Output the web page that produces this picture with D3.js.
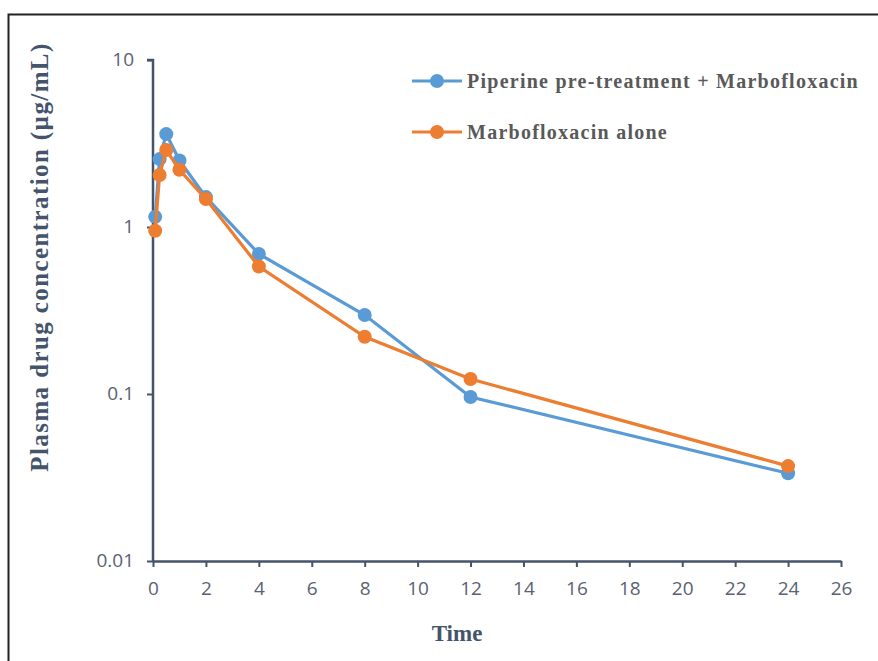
<!DOCTYPE html>
<html>
<head>
<meta charset="utf-8">
<script src="https://cdn.jsdelivr.net/npm/d3@7"></script>
<style>
  body { margin: 0; background: #fff; }
</style>
</head>
<body>
<div id="chart"></div>
<script>
var timePoints = [0.083, 0.25, 0.5, 1, 2, 4, 8, 12, 24];
var piperineConc = [1.15, 2.55, 3.6, 2.5, 1.51, 0.69, 0.297, 0.096, 0.0335];
var aloneConc = [0.95, 2.05, 2.89, 2.2, 1.47, 0.58, 0.22, 0.123, 0.037];
var seriesNames = ["Piperine pre-treatment + Marbofloxacin", "Marbofloxacin alone"];
var seriesColors = ["#5B9BD5", "#ED7D31"];
var xTicks = [0, 2, 4, 6, 8, 10, 12, 14, 16, 18, 20, 22, 24, 26];
var yTicks = [0.01, 0.1, 1, 10];

var width = 878, height = 661;
var axisColor = "#44546A";

var svg = d3.select("#chart").append("svg")
    .attr("width", width)
    .attr("height", height);

// outer frame
svg.append("rect")
    .attr("x", 8.5).attr("y", 14.5)
    .attr("width", width + 10).attr("height", height + 10)
    .attr("fill", "none")
    .attr("stroke", "#222")
    .attr("stroke-width", 2);

var x = d3.scaleLinear().domain([0, 26]).range([153, 841]);
var y = d3.scaleLog().domain([0.01, 10]).range([561, 60]);

// axes
var xAxis = svg.append("g")
    .attr("transform", "translate(0," + y(0.01) + ")")
    .call(d3.axisBottom(x).tickValues(xTicks).tickSize(6).tickSizeOuter(0).tickPadding(15));

var yAxis = svg.append("g")
    .attr("transform", "translate(" + x(0) + ",0)")
    .call(d3.axisLeft(y).tickValues(yTicks).tickSize(6).tickSizeOuter(0)
      .tickFormat(function (d) { return String(d); }).tickPadding(13));

[xAxis, yAxis].forEach(function (g) {
  g.select(".domain").attr("stroke", axisColor).attr("stroke-width", 2.5);
  g.selectAll(".tick line").attr("stroke", axisColor).attr("stroke-width", 2);
  g.selectAll(".tick text")
    .attr("fill", "#5a6272")
    .style("font-family", "'Open Sans', sans-serif")
    .style("font-size", "19px");
});
yAxis.selectAll(".tick text").attr("dy", "0.3em");
// extend the y axis line to the top tick
yAxis.select(".domain").attr("d", "M-6," + y(10) + "H0V" + y(0.01));

// lines and markers
var allSeries = [piperineConc, aloneConc];
var line = d3.line()
    .x(function (d) { return x(d[0]); })
    .y(function (d) { return y(d[1]); });

allSeries.forEach(function (vals, i) {
  var pts = timePoints.map(function (t, j) { return [t, vals[j]]; });
  svg.append("path")
      .datum(pts)
      .attr("d", line)
      .attr("fill", "none")
      .attr("stroke", seriesColors[i])
      .attr("stroke-width", 3.2);
  svg.selectAll(".pt" + i)
      .data(pts)
      .enter()
      .append("circle")
      .attr("class", "pt" + i)
      .attr("cx", function (d) { return x(d[0]); })
      .attr("cy", function (d) { return y(d[1]); })
      .attr("r", 7)
      .attr("fill", seriesColors[i]);
});

// legend
var legend = svg.selectAll(".legend")
    .data(seriesNames)
    .enter()
    .append("g")
    .attr("class", "legend")
    .attr("transform", function (d, i) { return "translate(412," + (81 + i * 51) + ")"; });

legend.append("line")
    .attr("x1", 0).attr("x2", 50)
    .attr("stroke", function (d, i) { return seriesColors[i]; })
    .attr("stroke-width", 3.2);
legend.append("circle")
    .attr("cx", 25).attr("r", 7)
    .attr("fill", function (d, i) { return seriesColors[i]; });
legend.append("text")
    .attr("x", 55)
    .attr("dy", "0.35em")
    .attr("fill", "#595959")
    .style("font-family", "'Liberation Serif', serif")
    .style("font-weight", "bold")
    .style("font-size", "20px")
    .style("letter-spacing", "1.25px")
    .text(function (d) { return d; });

// axis titles
svg.append("text")
    .attr("x", 457).attr("y", 641)
    .attr("text-anchor", "middle")
    .attr("fill", axisColor)
    .style("font-family", "'Liberation Serif', serif")
    .style("font-weight", "bold")
    .style("font-size", "23px")
    .text("Time");

svg.append("text")
    .attr("transform", "translate(48,257) rotate(-90)")
    .attr("text-anchor", "middle")
    .attr("fill", axisColor)
    .style("font-family", "'Liberation Serif', serif")
    .style("font-weight", "bold")
    .style("font-size", "25px")
    .style("letter-spacing", "1.4px")
    .text("Plasma drug concentration (µg/mL)");
</script>
</body>
</html>
